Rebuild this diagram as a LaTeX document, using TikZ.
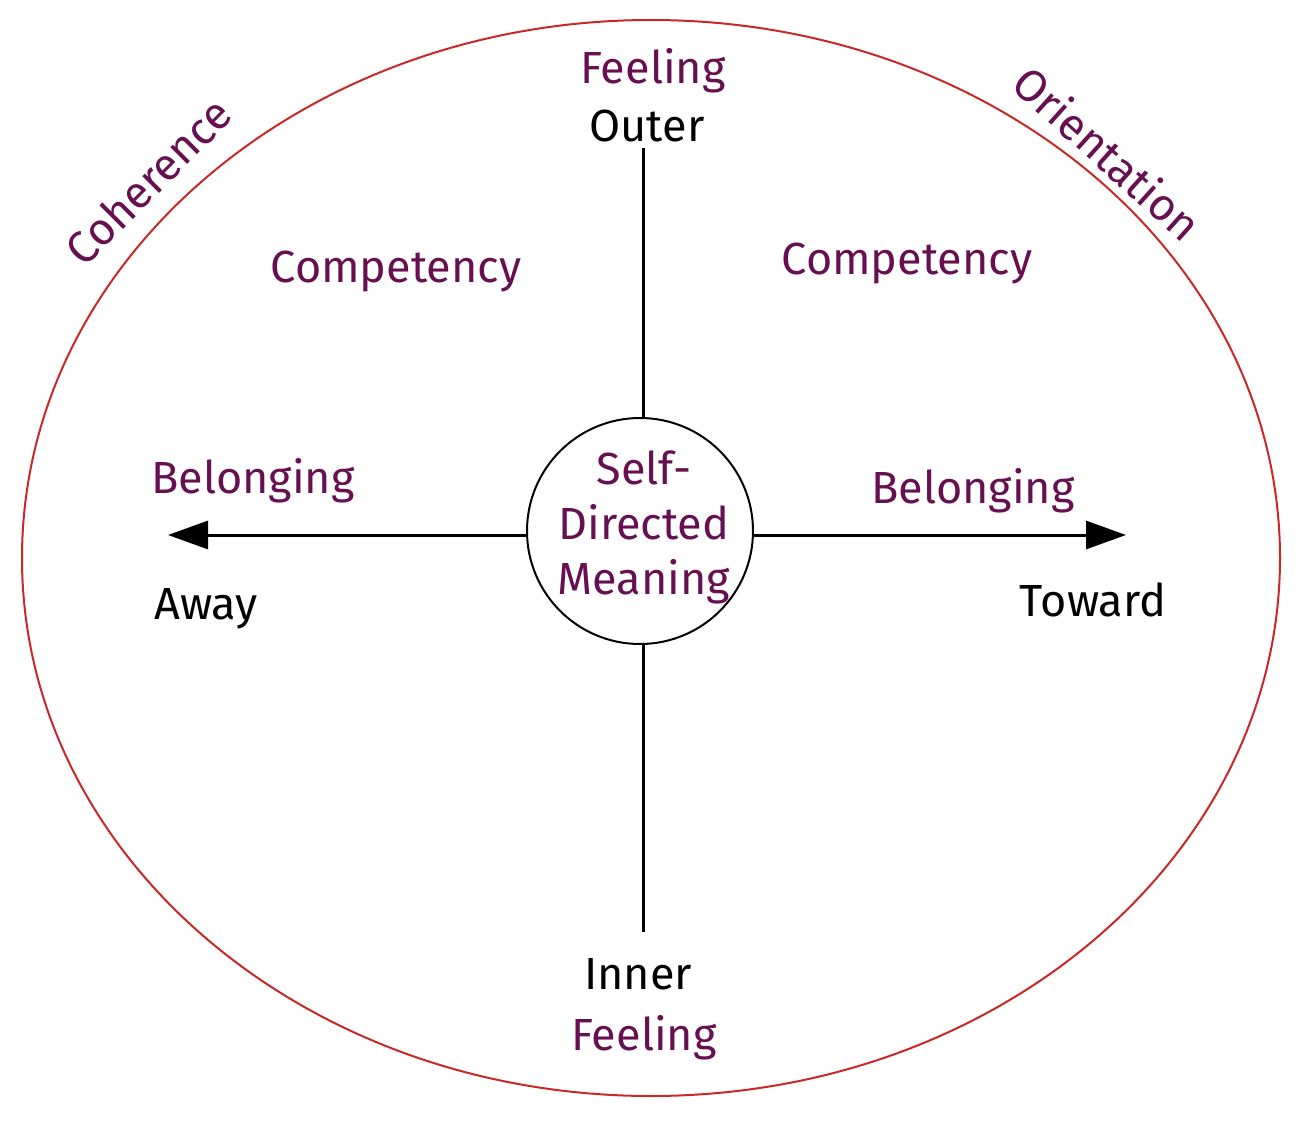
\documentclass[tikz,border=0pt]{standalone}
\usepackage{fontspec}
\setmainfont{Fira Sans}
\usetikzlibrary{arrows.meta}
\definecolor{plum}{RGB}{102,16,82}
\definecolor{rim}{RGB}{200,40,40}
\begin{document}
\begin{tikzpicture}[x=1pt,y=-1pt,
  lbl/.style={font=\fontsize{45}{55}\selectfont, inner sep=0pt},
  purp/.style={lbl, text=plum},
  blk/.style={lbl, text=black},
  axis/.style={line width=3pt, draw=black},
  tip/.style={-{Triangle[length=40pt,width=28pt]}}]
\useasboundingbox (0,0) rectangle (1310,1124);
\draw[rim, line width=2pt] (651,558) ellipse [x radius=629, y radius=538];
\node[circle, draw, line width=2pt, minimum size=226pt, inner sep=0pt] (c) at (640,531) {};
\node[purp, align=center] (m) at (644,527) {Self-\\Directed\\Meaning};
\coordinate (top) at (643,148);
\coordinate (bot) at (643,932);
\coordinate (lt) at (168,535);
\coordinate (rt) at (1126,535);
\draw[axis] (c.north -| top) -- (top);
\draw[axis] (c.south -| bot) -- (bot);
\draw[axis, tip] (c.west |- lt) -- (lt);
\draw[axis, tip] (c.east |- rt) -- (rt);
\node[purp] (f1) at (653,71) {Feeling};
\node[blk] (o) at (647,126) {Outer};
\node[purp] (c1) at (396,272) {Competency};
\node[purp] (c2) at (907,264) {Competency};
\node[purp] (b1) at (253,481) {Belonging};
\node[purp] (b2) at (973,491) {Belonging};
\node[blk] (aw) at (206,609) {Away};
\node[blk] (tw) at (1093,600) {Toward};
\node[blk] (in) at (638,974) {Inner};
\node[purp] (f2) at (644,1038) {Feeling};
\node[purp, rotate=45] (coh) at (148,181) {Coherence};
\node[purp, rotate=-42] (ori) at (1108,153) {Orientation};
\end{tikzpicture}
\end{document}
